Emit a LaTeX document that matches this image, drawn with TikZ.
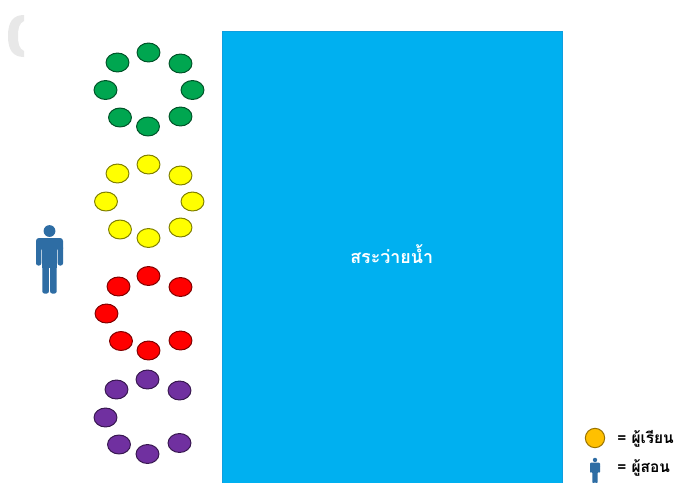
\documentclass[tikz,border=0pt]{standalone}
\usepackage{fontspec}
\newfontfamily\thaifont[Script=Thai]{Loma}
\usetikzlibrary{shapes.geometric}
\definecolor{poolblue}{HTML}{00B0F0}
\definecolor{pooledge}{HTML}{2E75B6}
\definecolor{mangreen}{HTML}{00A650}
\definecolor{manyellow}{HTML}{FFFF00}
\definecolor{manred}{HTML}{FF0000}
\definecolor{manpurple}{HTML}{7030A0}
\definecolor{personblue}{HTML}{2E6DA4}
\definecolor{ghost}{HTML}{E8E8E8}
\definecolor{legendorange}{HTML}{FFC000}
\tikzset{
  x=0.75pt,y=-0.75pt,
  student/.style={draw=#1!50!black,line width=0.75pt,ellipse,inner sep=0pt,minimum width=17.2pt,minimum height=14.2pt,fill=#1},
  personpart/.style={fill=personblue,draw=none,rounded corners=#1},
  thaitext/.style={inner sep=0pt,anchor=west},
}
\newcommand{\drawperson}[3]{%
  \begin{scope}[shift={(#1,#2)},scale=#3]
    \pgfmathsetmacro{\rbig}{2.2*#3}
    \pgfmathsetmacro{\rsmall}{1.6*#3}
    \fill[personblue] (0,-28.5) circle (5.9);
    % shoulders and chest
    \fill[personpart=\rbig pt] (-13.5,-8) -- (-13.5,-21.5) -- (13.5,-21.5) -- (13.5,-8) -- (8.2,-8) -- (8.2,-12) -- (-8.2,-12) -- (-8.2,-8) -- cycle;
    % arms
    \fill[personpart=\rsmall pt] (-13.5,-14) rectangle (-8.2,6);
    \fill[personpart=\rsmall pt] (8.2,-14) rectangle (13.5,6);
    % torso
    \fill[personblue] (-7.2,-16) rectangle (7.2,8);
    % legs
    \fill[personpart=\rsmall pt] (-7.2,4) rectangle (-0.6,34);
    \fill[personpart=\rsmall pt] (0.6,4) rectangle (7.2,34);
  \end{scope}}
\begin{document}
\begin{tikzpicture}
\useasboundingbox (0,0) rectangle (674,482);
\fill[white] (0,0) rectangle (674,482);
% ghost bracket cut at the right
\fill[ghost] (24,15) .. controls (13,15) and (8,22) .. (8,36) .. controls (8,50) and (13,57) .. (24,57) -- (24,51) .. controls (19,49) and (18,43) .. (18,36) .. controls (18,29) and (19,23) .. (24,21) -- cycle;
% pool
\node[draw=poolblue!70!pooledge,fill=poolblue,line width=0.75pt,minimum width=254.7pt,minimum height=340pt,inner sep=0pt,anchor=north west] (pool) at (222,31) {};
\node[thaitext,text=white,font=\thaifont\bfseries\fontsize{13.4}{15}\selectfont] (poollabel) at (350,254.5) {สระว่ายน้ำ};
% green
\foreach \n/\px/\py in {a/117.5/62.5,b/148.5/52.5,c/180.5/63.5,d/105.5/90,e/192.5/90,f/120/117.5,g/148/126.5,h/180.5/116.5}
  \node[student=mangreen] (g\n) at (\px,\py) {};
% yellow
\foreach \n/\px/\py in {a/117.5/173.5,b/148.5/164.5,c/180.5/175.5,d/106/201.5,e/192.5/201.5,f/120/229.5,g/148.5/238,h/180.5/227.5}
  \node[student=manyellow] (y\n) at (\px,\py) {};
% red
\foreach \n/\px/\py in {a/118.5/286.5,b/148.5/276,c/180.5/287,d/106.5/313.5,f/121/341,g/148.5/350.5,h/180.5/340.5}
  \node[student=manred] (r\n) at (\px,\py) {};
% purple
\foreach \n/\px/\py in {a/116.5/389.5,b/147.5/379.5,c/179.5/390.5,d/105.5/417.5,f/119/444.5,g/147.5/454,h/179.5/443}
  \node[student=manpurple] (p\n) at (\px,\py) {};
% teacher
\drawperson{49.5}{259.5}{1}
% legend
\node[draw=legendorange!60!black,fill=legendorange,line width=0.75pt,circle,inner sep=0pt,minimum size=14.5pt] (legstudent) at (595,438) {};
\node[thaitext,font=\thaifont\bfseries\fontsize{11.6}{13}\selectfont] (legstudenttext) at (617,438.5) {= ผู้เรียน};
\drawperson{595}{470.5}{0.37}
\node[thaitext,font=\thaifont\bfseries\fontsize{11.6}{13}\selectfont] (legteachertext) at (617,467.5) {= ผู้สอน};
\end{tikzpicture}
\end{document}
